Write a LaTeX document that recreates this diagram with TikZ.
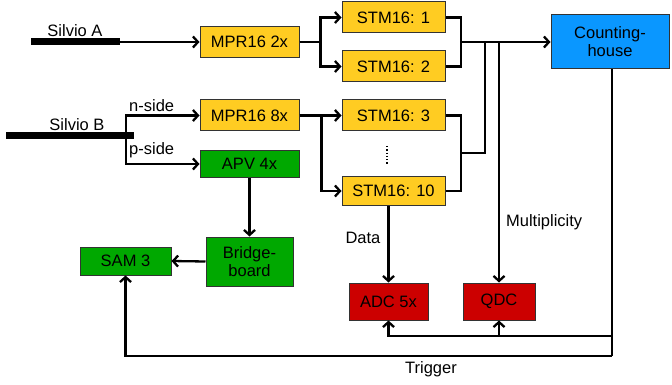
\documentclass[tikz,border=0pt]{standalone}
\usepackage{fontspec}
\setmainfont{Liberation Sans}
\usetikzlibrary{arrows.meta}
\definecolor{stmyellow}{HTML}{FFCC22}
\definecolor{apvgreen}{HTML}{00A800}
\definecolor{adcred}{HTML}{CC0000}
\definecolor{chblue}{HTML}{0A97FF}
\begin{document}
\begin{tikzpicture}[x=1pt,y=-1pt,
  font=\fontsize{16.5}{18}\selectfont,
  box/.style={draw=black!80, line width=1pt, inner sep=0pt, align=center},
  ybox/.style={box, fill=stmyellow},
  gbox/.style={box, fill=apvgreen},
  rbox/.style={box, fill=adcred},
  bbox/.style={box, fill=chblue},
  wire/.style={line width=2.3pt},
  arr/.style={wire, -{Straight Barb[length=5pt,width=11pt,line width=2.3pt]}},
  bar/.style={line width=7pt},
  lbl/.style={inner sep=0pt}]
\useasboundingbox (0,0) rectangle (672,385);

% detector strips
\coordinate (saL) at (31,42);
\coordinate (saR) at (120,42);
\coordinate (sbL) at (6,136);
\coordinate (sbR) at (134,136);
\draw[bar] (saL) -- (saR);
\draw[bar] (sbL) -- (sbR);
\node[lbl] (silA) at (75,31) {Silvio A};
\node[lbl] (silB) at (77,125) {Silvio B};

% front-end boxes
\node[ybox, minimum width=99pt, minimum height=31pt] (mprA) at (249.5,42) {MPR16 2x};
\node[ybox, minimum width=99pt, minimum height=31pt] (mprB) at (249.5,115.5) {MPR16 8x};
\node[gbox, minimum width=99pt, minimum height=26pt] (apv) at (249.5,164) {APV 4x};
\node[ybox, minimum width=103pt, minimum height=31pt] (stm1) at (393.5,17.5) {STM16: 1};
\node[ybox, minimum width=103pt, minimum height=31pt] (stm2) at (393.5,66.5) {STM16: 2};
\node[ybox, minimum width=103pt, minimum height=31pt] (stm3) at (393.5,115.5) {STM16: 3};
\node[ybox, minimum width=103pt, minimum height=29pt] (stm10) at (393.5,191) {STM16: 10};
\node[bbox, minimum width=118pt, minimum height=54pt] (ch) at (610,42) {Counting-\\house};
\node[gbox, minimum width=87pt, minimum height=49pt] (bridge) at (249.5,261.5) {Bridge-\\board};
\node[gbox, minimum width=91pt, minimum height=28pt] (sam) at (125.5,261) {SAM 3};
\node[rbox, minimum width=79pt, minimum height=37pt] (adc) at (388.5,301.5) {ADC 5x};
\node[rbox, minimum width=72pt, minimum height=37pt] (qdc) at (499,301.5) {QDC};

% ellipsis between STM16: 3 and STM16: 10
\coordinate (dotsT) at (387,146);
\coordinate (dotsB) at (387,165);
\draw[line width=1.3pt, dash pattern=on 1.3pt off 2pt] (dotsT) -- (dotsB);

% Silvio A readout
\draw[arr] (saR) -- (mprA.west);
\draw[arr] (mprA.east) -- ++(21,0) |- (stm1.west);
\draw[arr] (mprA.east) -- ++(21,0) |- (stm2.west);

% Silvio B readout
\coordinate (sbSplit) at (126,136);
\draw[arr] (sbSplit) |- (mprB.west);
\draw[arr] (sbSplit) |- (apv.west);
\node[lbl, anchor=west] (nside) at (129,106) {n-side};
\node[lbl, anchor=west] (pside) at (129,150) {p-side};
\draw[arr] (mprB.east) -- ++(22,0) |- (stm3.west);
\draw[arr] (mprB.east) -- ++(22,0) |- (stm10.west);
\draw[arr] (apv.south) -- (bridge.north);
\draw[arr] (bridge.west) -- (sam.east);

% collectors to the counting-house
\coordinate (colA) at (461,42);
\coordinate (colB) at (461,153);
\coordinate (colBup) at (485,42);
\draw[wire] (stm1.east) -| (colA);
\draw[wire] (stm2.east) -| (colA);
\draw[wire] (stm3.east) -| (colB);
\draw[wire] (stm10.east) -| (colB);
\draw[wire] (colB) -| (colBup);
\draw[arr] (colA) -- (ch.west);

% multiplicity and data
\coordinate (multTap) at (499,42);
\draw[arr] (multTap) -- node[lbl, anchor=west, pos=0.75, xshift=6pt] {Multiplicity} (qdc.north);
\draw[arr] (stm10.south -| adc.north) -- node[lbl, anchor=east, pos=0.42, xshift=-7pt] {Data} (adc.north);

% trigger distribution
\coordinate (trigV) at (612,69);
\coordinate (trigBranch) at (612,336);
\coordinate (trigCorner) at (612,356);
\coordinate (trigQ) at (499,336);
\draw[wire] (trigV) -- (trigCorner);
\draw[arr] (trigBranch) -| (adc.south);
\draw[arr] (trigQ) -- (qdc.south);
\draw[arr] (trigCorner) -| (sam.south);
\node[lbl] (trig) at (431,369) {Trigger};
\end{tikzpicture}
\end{document}
